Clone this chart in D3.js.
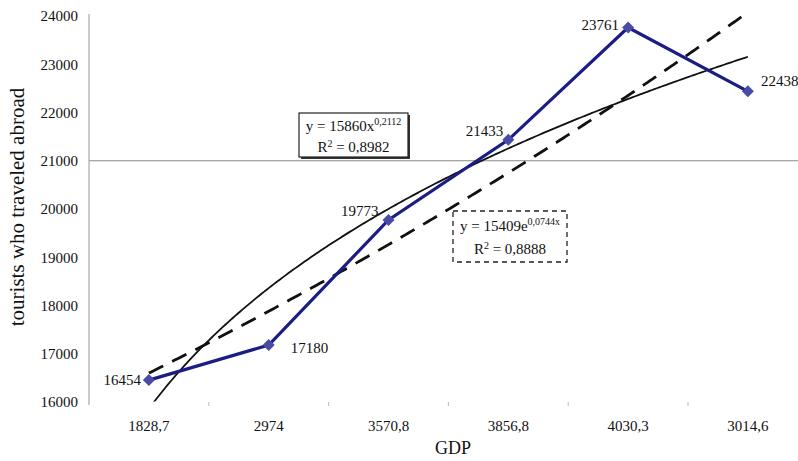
<!DOCTYPE html>
<html><head><meta charset="utf-8">
<script src="https://cdn.jsdelivr.net/npm/d3@7"></script>
<style>body{margin:0;background:#fff}svg{display:block}text{font-family:"Liberation Serif","Times New Roman",serif;fill:#111}</style>
</head><body><div id="c"></div>
<script>
const categories = ["1828,7","2974","3570,8","3856,8","4030,3","3014,6"];
const tourists = [16454,17180,19773,21433,23761,22438];
const yTicks = [16000,17000,18000,19000,20000,21000,22000,23000,24000];
const powerCoef = [15860, 0.2112]; // y = a x^b
const expCoef = [15409, 0.0744];   // y = a e^(b x)
const labelOffsets = [[-8,5,"end"],[22,8,"start"],[-10,-4,"end"],[-5,-4,"end"],[-9,2,"end"],[13,-5,"start"]];

(function(){
const W=798,H=461;
const svg=d3.select("#c").append("svg").attr("width",W).attr("height",H);
const pLeft=89, bw=119.8, pTop=16, pBottom=402;
const x=d3.scaleBand().domain(categories).range([pLeft,pLeft+bw*6]).paddingInner(0).paddingOuter(0);
const y=d3.scaleLinear().domain([16000,24000]).range([pBottom,pTop]);
const xi = i => x(categories[0]) + bw*(i-0.5);

svg.append("line").attr("x1",pLeft).attr("x2",W).attr("y1",y(21000)).attr("y2",y(21000)).attr("stroke","#888").attr("stroke-width",1);

const ya=svg.append("g").attr("transform",`translate(${pLeft},0)`).call(d3.axisLeft(y).tickValues(yTicks).tickSize(0).tickPadding(11).tickFormat(d3.format("d")));
ya.select(".domain").attr("stroke","#999").attr("d",`M0,${pTop-2}V${pBottom+3}`);
ya.selectAll("text").attr("font-size",15).attr("font-family","Liberation Serif").attr("fill","#222");

const xa=svg.append("g").attr("transform",`translate(0,${pBottom})`).call(d3.axisBottom(x).tickSize(0).tickPadding(18));
xa.select(".domain").remove();
xa.selectAll("text").attr("font-size",15).attr("font-family","Liberation Serif").attr("fill","#222");
[1,2,3,4,5].forEach(i=>{
  svg.append("line").attr("x1",pLeft+bw*i).attr("x2",pLeft+bw*i).attr("y1",pBottom).attr("y2",pBottom+4).attr("stroke","#bbb");
});

svg.append("text").attr("x",453).attr("y",454).attr("text-anchor","middle").attr("font-size",18).text("GDP");
svg.append("text").attr("transform","translate(24,207) rotate(-90)").attr("text-anchor","middle").attr("font-size",21).text("tourists who traveled abroad");

svg.append("clipPath").attr("id","cp").append("rect").attr("x",pLeft).attr("y",0).attr("width",W-pLeft).attr("height",pBottom-0.5);

const ts=d3.range(1,6.0001,0.02);
const line=d3.line().x(d=>xi(d[0])).y(d=>y(d[1]));
svg.append("path").attr("clip-path","url(#cp)").attr("d",line(ts.map(t=>[t,powerCoef[0]*Math.pow(t,powerCoef[1])])))
  .attr("fill","none").attr("stroke","#111").attr("stroke-width",1.8);
svg.append("path").attr("clip-path","url(#cp)").attr("d",line(ts.map(t=>[t,expCoef[0]*Math.exp(expCoef[1]*t)])))
  .attr("fill","none").attr("stroke","#111").attr("stroke-width",2.8).attr("stroke-dasharray","16,10");

svg.append("path").attr("d",d3.line().x((d,i)=>x(categories[i])+bw/2).y(d=>y(d))(tourists))
  .attr("fill","none").attr("stroke","#1c1c85").attr("stroke-width",3.2);
svg.selectAll(".pt").data(tourists).enter().append("path")
  .attr("d",d3.symbol(d3.symbolSquare,72)())
  .attr("transform",(d,i)=>`translate(${x(categories[i])+bw/2},${y(d)}) rotate(45)`)
  .attr("fill","#4b4ba6");
svg.selectAll(".lbl").data(tourists).enter().append("text")
  .attr("x",(d,i)=>x(categories[i])+bw/2+labelOffsets[i][0])
  .attr("y",(d,i)=>y(d)+labelOffsets[i][1])
  .attr("text-anchor",(d,i)=>labelOffsets[i][2])
  .attr("font-size",15).text(d=>d);

function box(bx,by,bwid,bh,dashed,l1base,l1sup,l2val,l1y,l2y){
  const g=svg.append("g");
  g.append("rect").attr("x",bx).attr("y",by).attr("width",bwid).attr("height",bh).attr("fill","#fff")
   .attr("stroke","#222").attr("stroke-width",dashed?1.3:1.2).attr("stroke-dasharray",dashed?"5,4":null);
  const t1=g.append("text").attr("x",bx+bwid/2).attr("y",by+l1y).attr("text-anchor","middle").attr("font-size",15);
  t1.append("tspan").text(l1base);
  t1.append("tspan").attr("dy",-6).attr("font-size",10).text(l1sup);
  const t2=g.append("text").attr("x",bx+bwid/2).attr("y",by+l2y).attr("text-anchor","middle").attr("font-size",15);
  t2.append("tspan").text("R");
  t2.append("tspan").attr("dy",-5).attr("font-size",10).text("2");
  t2.append("tspan").attr("dy",5).text(" = "+l2val);
}
svg.append("rect").attr("x",301).attr("y",115).attr("width",109).attr("height",44).attr("fill","#333");
box(299,113,109,44,false,"y = 15860x","0,2112","0,8982",18,39);
box(453,211,114,51,true,"y = 15409e","0,0744x","0,8888",20,43);
})();
</script></body></html>
